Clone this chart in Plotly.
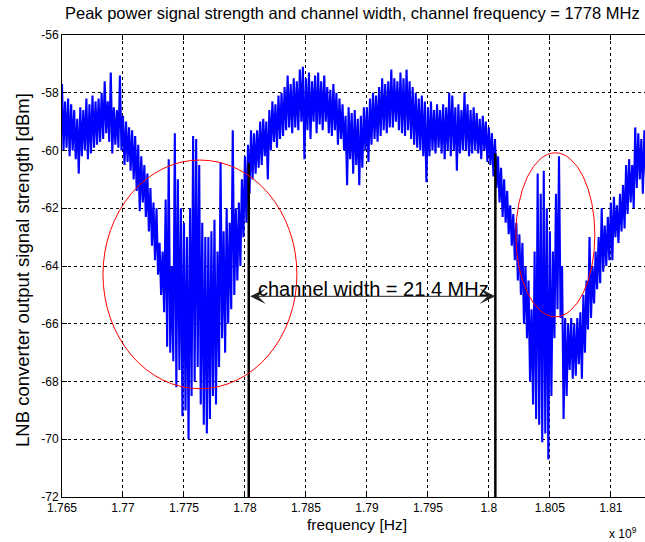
import plotly.graph_objects as go

# ---------------- data ----------------
F_START_GHZ = 1.765          # first sample frequency
F_STEP_GHZ = 0.00025         # spacing of the envelope samples (0.25 MHz)

# upper envelope of the measured level, dBm, one value per 0.25 MHz
level_hi_dbm = [
    -57.7, -58.3, -58.2, -58.4,  # 1765 MHz
    -58.6, -58.9, -58.5, -58.6,
    -58.2, -58.4, -58.1, -58.3,
    -58.2, -58.0, -57.6, -58.3,
    -57.3, -58.5, -58.6, -57.4,
    -58.8, -59.0, -59.2, -59.3,  # 1770
    -59.5, -59.8, -60.2, -60.5,
    -60.8, -61.3, -61.8, -62.0,
    -63.2, -63.5, -61.7, -60.3,
    -64.0, -59.4, -61.0, -62.0,
    -62.5, -63.0, -62.0, -59.5,  # 1775
    -59.6, -60.5, -62.5, -63.0,
    -63.0, -62.8, -62.4, -63.5,
    -60.4, -62.8, -62.0, -62.5,
    -59.3, -62.0, -61.8, -61.0,
    -60.2, -59.8, -59.3, -59.4,  # 1780
    -59.3, -59.0, -58.9, -59.0,
    -58.6, -58.3, -58.4, -58.1,
    -58.0, -57.8, -57.4, -57.7,
    -57.5, -57.6, -57.2, -57.1,
    -57.5, -57.3, -57.6, -57.4,  # 1785
    -57.3, -57.6, -57.4, -57.8,
    -57.9, -57.7, -58.0, -58.2,
    -58.4, -58.8, -58.5, -58.7,
    -58.6, -58.9, -58.8, -58.5,
    -58.5, -58.2, -58.0, -58.1,  # 1790
    -57.8, -57.5, -57.7, -57.6,
    -57.2, -57.5, -57.6, -57.3,
    -57.5, -57.2, -57.6, -57.8,
    -58.0, -58.2, -58.1, -58.3,
    -58.5, -58.3, -58.6, -58.4,  # 1795
    -58.6, -58.4, -58.5, -58.0,
    -58.1, -58.5, -58.4, -58.6,
    -58.0, -58.4, -58.6, -58.5,
    -58.7, -58.9, -58.8, -59.0,
    -59.2, -59.4, -59.6, -60.2,  # 1800
    -60.6, -61.0, -61.4, -61.9,
    -62.2, -62.5, -62.9, -63.2,
    -64.0, -64.5, -65.5, -63.5,
    -60.8, -61.5, -60.7, -62.0,
    -62.8, -63.5, -61.5, -60.2,  # 1805
    -64.0, -65.8, -66.0, -65.8,
    -66.0, -65.8, -65.6, -65.0,
    -64.5, -63.0, -64.0, -63.5,
    -63.0, -62.0, -62.6, -62.3,
    -61.8, -61.6, -61.9, -61.5,  # 1810
    -61.2, -60.5, -60.3, -60.5,
    -59.2, -59.4, -59.6, -59.3,
]

# lower envelope of the measured level, dBm, one value per 0.25 MHz
level_lo_dbm = [
    -60.0, -59.9, -60.2, -60.0,  # 1765 MHz
    -60.3, -60.8, -60.2, -60.0,
    -60.3, -60.1, -59.9, -59.8,
    -59.7, -59.6, -59.4, -59.7,
    -60.1, -59.8, -59.9, -60.0,
    -60.5, -60.4, -60.7, -61.0,  # 1770
    -61.4, -62.1, -61.8, -62.3,
    -62.8, -63.3, -63.8, -64.3,
    -65.0, -65.6, -66.8, -67.0,
    -67.3, -68.2, -67.6, -69.2,
    -69.0, -70.0, -68.5, -68.0,  # 1775
    -67.5, -68.8, -69.5, -69.8,
    -69.3, -68.5, -68.8, -67.5,
    -66.5, -67.0, -66.0, -65.5,
    -65.0, -64.5, -64.0, -63.0,
    -62.5, -61.5, -61.0, -60.8,  # 1780
    -60.6, -60.5, -60.2, -61.0,
    -60.0, -59.7, -59.9, -59.6,
    -59.5, -59.3, -59.2, -59.4,
    -59.2, -59.3, -59.0, -60.3,
    -59.3, -59.6, -59.0, -59.4,  # 1785
    -59.1, -59.3, -59.0, -59.4,
    -59.5, -59.3, -59.8, -59.6,
    -60.0, -61.2, -60.3, -60.8,
    -60.5, -61.2, -60.6, -60.0,
    -60.4, -59.8, -59.6, -59.7,  # 1790
    -59.5, -59.3, -59.4, -59.2,
    -59.2, -59.0, -59.3, -59.4,
    -59.5, -59.3, -59.6, -59.8,
    -59.9, -60.0, -60.2, -61.1,
    -60.2, -60.0, -60.1, -59.9,  # 1795
    -60.1, -60.3, -60.0, -60.2,
    -60.0, -60.7, -60.1, -60.0,
    -60.0, -60.2, -60.1, -60.0,
    -60.1, -60.3, -60.0, -60.4,
    -60.5, -60.9, -61.3, -61.8,  # 1800
    -62.3, -62.5, -62.9, -63.3,
    -63.8, -64.5, -65.0, -66.0,
    -66.5, -68.0, -68.8, -69.3,
    -69.5, -70.1, -69.8, -70.7,
    -68.5, -66.5, -65.5, -65.8,  # 1805
    -69.3, -68.5, -67.6, -67.9,
    -67.8, -67.4, -67.9, -67.0,
    -66.2, -65.8, -65.3, -64.8,
    -64.6, -64.2, -64.0, -63.8,
    -63.8, -63.0, -63.2, -62.8,  # 1810
    -62.7, -62.2, -61.8, -62.0,
    -61.3, -61.0, -61.5, -60.9,
]

# channel edges (GHz) and the level where each edge marker ends (dBm)
channel_edges_ghz = [1.78031, 1.80053]
channel_edge_top_dbm = [-60.43, -60.10]
arrow_level_dbm = -65.05
channel_label = "channel width = 21.4 MHz"

# red ellipses marking the interference zones
zone_f_lo = [1.76836, 1.80221]
zone_f_hi = [1.78426, 1.80869]
zone_db_lo = [-68.25, -65.76]
zone_db_hi = [-60.33, -60.08]

x_tick_vals = [1.765, 1.77, 1.775, 1.78, 1.785, 1.79, 1.795, 1.80, 1.805, 1.81]
x_tick_text = ["1.765", "1.77", "1.775", "1.78", "1.785", "1.79", "1.795", "1.8", "1.805", "1.81"]
y_tick_vals = [-72, -70, -68, -66, -64, -62, -60, -58, -56]
y_tick_text = ["-72", "-70", "-68", "-66", "-64", "-62", "-60", "-58", "-56"]

X_RANGE = [1.765, 1.8128]
Y_RANGE = [-72, -56]

TITLE = "Peak power signal strength and channel width, channel frequency = 1778 MHz"
X_TITLE = "frequency [Hz]"
Y_TITLE = "LNB converter output signal strength [dBm]"

# ---------------- build figure ----------------
FONT = "Liberation Sans, Arial, sans-serif"

freq = []
level = []
half = F_STEP_GHZ / 2.0
for i, (hi, lo) in enumerate(zip(level_hi_dbm, level_lo_dbm)):
    f = F_START_GHZ + i * F_STEP_GHZ
    freq += [f, f + half]
    level += [hi, lo]

fig = go.Figure()
fig.add_trace(go.Scatter(x=freq, y=level, mode="lines",
                         line=dict(color="#0000ff", width=2.1, simplify=False),
                         hoverinfo="skip", showlegend=False))

ex, ey = [], []
for f, top in zip(channel_edges_ghz, channel_edge_top_dbm):
    ex += [f, f, None]
    ey += [Y_RANGE[0], top, None]
fig.add_trace(go.Scatter(x=ex, y=ey, mode="lines",
                         line=dict(color="black", width=2.5),
                         hoverinfo="skip", showlegend=False))

shapes = []
for x0, x1, y0, y1 in zip(zone_f_lo, zone_f_hi, zone_db_lo, zone_db_hi):
    shapes.append(dict(type="circle", xref="x", yref="y", x0=x0, x1=x1, y0=y0, y1=y1,
                       line=dict(color="#ff0000", width=1)))

annotations = [
    # double headed arrow between the channel edges
    dict(x=channel_edges_ghz[1], y=arrow_level_dbm, ax=channel_edges_ghz[0], ay=arrow_level_dbm,
         xref="x", yref="y", axref="x", ayref="y", text="", showarrow=True,
         arrowhead=3, startarrowhead=3, arrowside="end+start", arrowsize=2.6,
         startarrowsize=2.6, arrowwidth=1, arrowcolor="#222222", standoff=0, startstandoff=0),
    dict(x=(channel_edges_ghz[0] + channel_edges_ghz[1]) / 2 + 0.0001, y=arrow_level_dbm + 0.25,
         xref="x", yref="y", text=channel_label, showarrow=False,
         font=dict(family=FONT, size=20, color="black"), xanchor="center", yanchor="middle"),
    dict(x=0.498, y=1.0476, xref="paper", yref="paper", text=TITLE, showarrow=False,
         font=dict(family=FONT, size=16.5, color="black"), xanchor="center", yanchor="middle"),
    dict(x=0.506, y=-0.060, xref="paper", yref="paper", text=X_TITLE, showarrow=False,
         font=dict(family=FONT, size=15.5, color="black"), xanchor="center", yanchor="middle"),
    dict(x=-0.069, y=0.491, xref="paper", yref="paper", text=Y_TITLE, showarrow=False,
         textangle=-90,
         font=dict(family=FONT, size=18.5, color="black"), xanchor="center", yanchor="middle"),
    dict(x=0.99, y=-0.078, xref="paper", yref="paper", text="x 10<sup>9</sup>", showarrow=False,
         font=dict(family=FONT, size=12, color="black"), xanchor="right", yanchor="middle"),
]

axis_common = dict(showgrid=True, gridcolor="#000000", griddash="3px,3px", gridwidth=1,
                   showline=True, linecolor="black", linewidth=1,
                   ticks="inside", ticklen=5, tickcolor="black", tickwidth=1,
                   tickfont=dict(family=FONT, size=12, color="black"), zeroline=False)

fig.update_layout(
    width=645, height=542, autosize=False,
    margin=dict(l=62, r=0, t=35, b=45, pad=0),
    paper_bgcolor="white", plot_bgcolor="white",
    xaxis=dict(range=X_RANGE, tickvals=x_tick_vals, ticktext=x_tick_text,
               mirror="ticks", **axis_common),
    yaxis=dict(range=Y_RANGE, tickvals=y_tick_vals, ticktext=y_tick_text,
               mirror=False, **axis_common),
    shapes=shapes, annotations=annotations, showlegend=False,
)

fig.write_html("out.html", config={"displayModeBar": False},
               post_script="document.body.style.margin='0';")
